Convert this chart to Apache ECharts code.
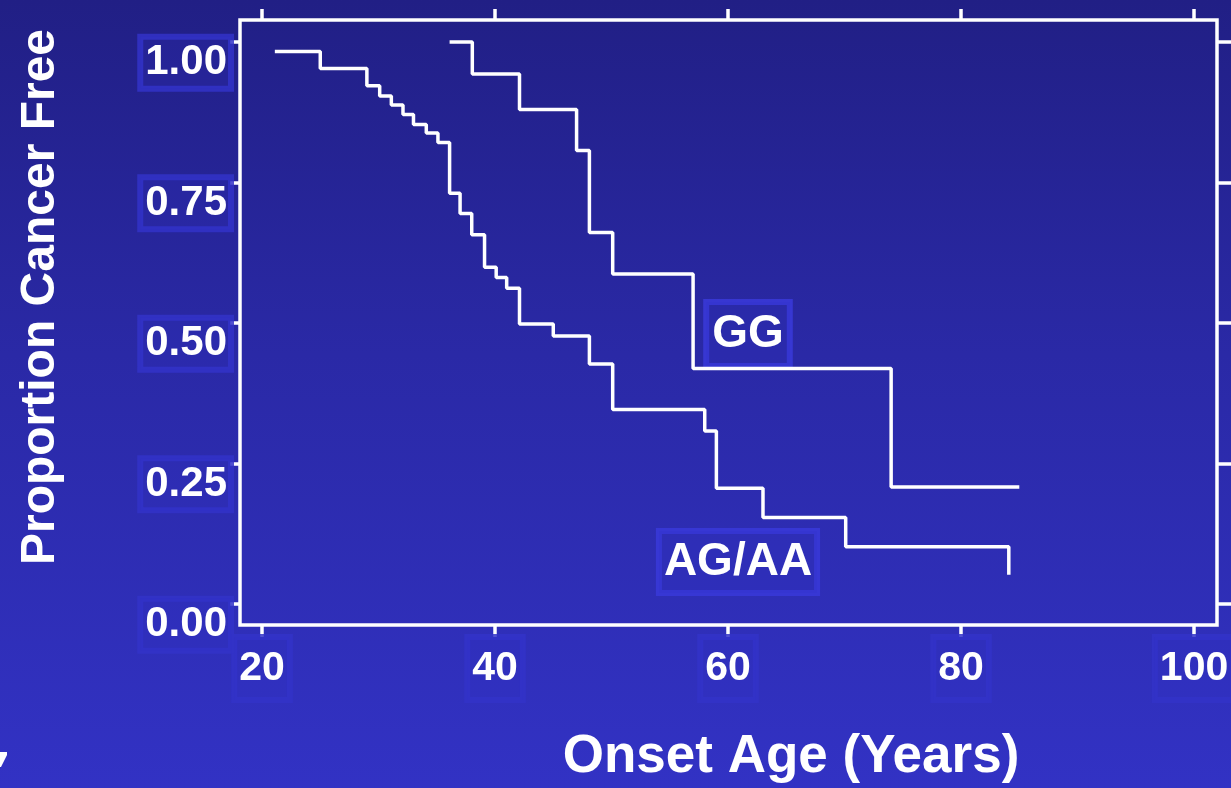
<!DOCTYPE html>
<html>
<head>
<meta charset="utf-8">
<script src="https://cdn.jsdelivr.net/npm/echarts@6/dist/echarts.min.js"></script>
<style>
html,body{margin:0;padding:0;}
#c{width:1231px;height:788px;background:linear-gradient(to bottom,#211f85 0%,#2a29a6 45%,#3232c4 100%);}
</style>
</head>
<body>
<div id="c"></div>
<script>
// ---- data ----
const xTicks = [20, 40, 60, 80, 100];
const yTicks = [0, 0.25, 0.5, 0.75, 1.0];
const ageAGAA = [21.1, 25.0, 29.0, 30.1, 31.1, 32.1, 33.0, 34.1, 35.1, 36.1, 37.0, 38.0, 39.1, 40.1, 41.0, 42.1, 45.0, 48.1, 50.1, 58.0, 59.0, 63.0, 70.1, 84.1];
const survAGAA = [0.983, 0.953, 0.922, 0.904, 0.888, 0.871, 0.853, 0.838, 0.821, 0.731, 0.695, 0.657, 0.599, 0.581, 0.562, 0.498, 0.477, 0.427, 0.346, 0.308, 0.206, 0.154, 0.102, 0.052];
const ageGG = [36.1, 38.05, 42.1, 47.0, 48.1, 50.1, 57.0, 74.0, 85.0];
const survGG = [1.0, 0.943, 0.880, 0.807, 0.661, 0.587, 0.419, 0.208, 0.208];
const groupNames = ['AG/AA', 'GG'];
const xTitle = 'Onset Age (Years)';
const yTitle = 'Proportion Cancer Free';

// ---- layout ----
const X_MIN = 18.11, X_MAX = 101.97;
const Y_MIN = -0.0374, Y_MAX = 1.0391;
const LABEL_SHIFT = 0.037; // y-label boxes sit a little below their ticks
const FONT = "'Liberation Sans', Arial, Helvetica, sans-serif";
const boxBg = 'rgba(50,50,198,0.2)';
const boxBorder = 'rgba(50,50,200,0.85)';

const chart = echarts.init(document.getElementById('c'), null, {renderer: 'canvas'});

const tickStyle = {color: '#ffffff', width: 3.5};
const labelBase = {
  color: '#ffffff', fontFamily: FONT, fontWeight: 'bold', fontSize: 40,
  backgroundColor: boxBg, borderColor: boxBorder, borderWidth: 3
};
const noLine = {show: false, onZero: false};

function pairs(xs, ys) { return xs.map((x, i) => [x, ys[i]]); }

chart.setOption({
  backgroundColor: 'transparent',
  animation: false,
  grid: {left: 240, right: 14, top: 20, bottom: 163, show: true, outerBoundsMode: 'none', containLabel: false,
         borderColor: '#ffffff', borderWidth: 3.5, backgroundColor: 'transparent'},
  xAxis: [
    {type: 'value', position: 'bottom', min: X_MIN, max: X_MAX,
     axisLine: noLine, splitLine: {show: false},
     axisTick: {show: true, inside: false, length: 12, lineStyle: tickStyle, customValues: xTicks},
     axisLabel: Object.assign({show: true, margin: 12, padding: [11, 5, 11, 5],
       customValues: xTicks, formatter: v => String(v)}, labelBase, {fontSize: 41})},
    {type: 'value', position: 'top', min: X_MIN, max: X_MAX,
     axisLine: noLine, splitLine: {show: false},
     axisTick: {show: true, inside: false, length: 11, lineStyle: tickStyle, customValues: xTicks},
     axisLabel: {show: false}}
  ],
  yAxis: [
    {type: 'value', position: 'left', min: Y_MIN, max: Y_MAX,
     axisLine: noLine, splitLine: {show: false},
     axisTick: {show: true, inside: false, length: 10, lineStyle: tickStyle, customValues: yTicks},
     axisLabel: {show: false}},
    {type: 'value', position: 'right', min: Y_MIN, max: Y_MAX,
     axisLine: noLine, splitLine: {show: false},
     axisTick: {show: true, inside: false, length: 14, lineStyle: tickStyle, customValues: yTicks},
     axisLabel: {show: false}},
    {type: 'value', position: 'left', min: Y_MIN + LABEL_SHIFT, max: Y_MAX + LABEL_SHIFT,
     axisLine: noLine, splitLine: {show: false}, axisTick: {show: false},
     axisLabel: Object.assign({show: true, margin: 9, padding: [5, 4, 5, 5],
       customValues: yTicks, formatter: v => v.toFixed(2)}, labelBase, {fontSize: 42})}
  ],
  series: [
    {name: groupNames[0], type: 'line', step: 'end', xAxisIndex: 0, yAxisIndex: 0,
     data: pairs(ageAGAA, survAGAA), symbol: 'none', silent: true,
     lineStyle: {color: '#ffffff', width: 3.5}},
    {name: groupNames[1], type: 'line', step: 'end', xAxisIndex: 0, yAxisIndex: 0,
     data: pairs(ageGG, survGG), symbol: 'none', silent: true,
     lineStyle: {color: '#ffffff', width: 3.5}}
  ],
  graphic: [
    {type: 'text', x: 41, y: 297, rotation: Math.PI / 2,
     style: {text: yTitle, fill: '#ffffff', font: "bold 48px " + FONT, align: 'center', verticalAlign: 'middle'}},
    {type: 'text', x: 791, y: 757,
     style: {text: xTitle, fill: '#ffffff', font: "bold 53px " + FONT, align: 'center', verticalAlign: 'middle'}},
    {type: 'text', x: 748, y: 334,
     style: {text: groupNames[1], fill: '#ffffff', font: "bold 46px " + FONT, align: 'center', verticalAlign: 'middle',
             backgroundColor: boxBg, borderColor: 'rgba(56,56,215,0.9)', borderWidth: 3, padding: [9, 6, 9, 6]}},
    {type: 'text', x: 738, y: 562,
     style: {text: groupNames[0], fill: '#ffffff', font: "bold 46px " + FONT, align: 'center', verticalAlign: 'middle',
             backgroundColor: boxBg, borderColor: 'rgba(56,56,215,0.9)', borderWidth: 3, padding: [8, 5, 8, 5]}},
    {type: 'polygon', shape: {points: [[0, 752], [7, 752], [7, 755], [1, 767], [0, 767]]},
     style: {fill: '#ffffff'}}
  ]
});
</script>
</body>
</html>
